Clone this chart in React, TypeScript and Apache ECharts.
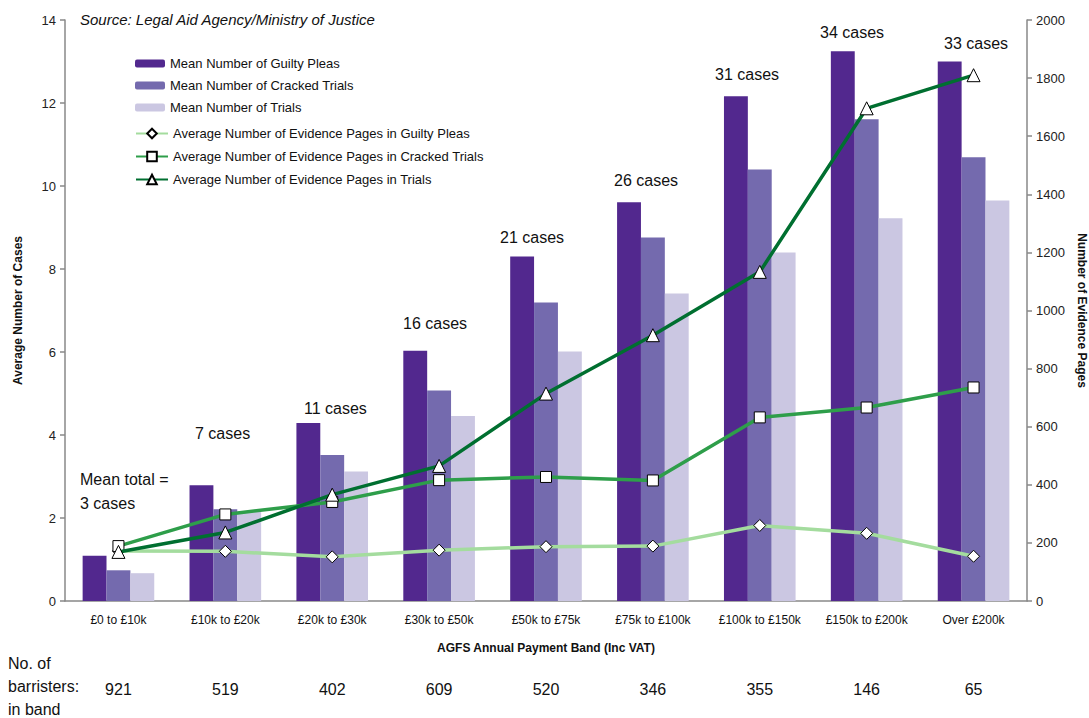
import React, { useEffect, useRef } from "react";
import * as echarts from "echarts";

const categories = ["£0 to £10k", "£10k to £20k", "£20k to £30k", "£30k to £50k", "£50k to £75k", "£75k to £100k", "£100k to £150k", "£150k to £200k", "Over £200k"];
const barristers = ["921", "519", "402", "609", "520", "346", "355", "146", "65"];
const caseTotals = [3, 7, 11, 16, 21, 26, 31, 34, 33];

const guiltyPleas = [1.09, 2.79, 4.29, 6.03, 8.3, 9.61, 12.16, 13.25, 13.0];
const crackedTrials = [0.74, 2.21, 3.52, 5.07, 7.19, 8.76, 10.4, 11.61, 10.69];
const trials = [0.67, 2.17, 3.12, 4.46, 6.01, 7.41, 8.4, 9.22, 9.65];

const pagesGuilty = [172, 171, 152, 175, 187, 189, 260, 233, 154];
const pagesCracked = [189, 298, 341, 416, 427, 415, 632, 666, 735];
const pagesTrials = [169, 236, 366, 465, 714, 915, 1133, 1696, 1810];

const FONT = "'Liberation Sans', Arial, sans-serif";

export default function App() {
  const ref = useRef<HTMLDivElement>(null);

  useEffect(() => {
    if (!ref.current) return;
    const chart = echarts.init(ref.current, null, { renderer: "svg" });

    const annPos = [
      [80, 479], [195, 433], [304, 408], [403, 323], [500, 237],
      [614, 180], [715, 74], [820, 32], [944, 43],
    ];
    const annotations = caseTotals.map((n, i) => ({
      type: "text",
      x: annPos[i][0],
      y: i === 0 ? annPos[i][1] - 12 : annPos[i][1],
      style: {
        text: i === 0 ? `Mean total =\n${n} cases` : `${n} cases`,
        font: `16px ${FONT}`,
        fill: "#111",
        verticalAlign: i === 0 ? "top" : "middle",
        lineHeight: 24,
      },
    }));

    const axisLineStyle = { color: "#888", width: 1.5 };
    const markerStyle = { color: "#fff", borderColor: "#000", borderWidth: 1 };

    chart.setOption({
      animation: false,
      textStyle: { fontFamily: FONT },
      grid: { left: 65, right: 62, top: 20, bottom: 117, containLabel: false, outerBoundsMode: "none" },
      legend: [
        {
          orient: "vertical",
          left: 130,
          top: 52,
          itemWidth: 30,
          itemHeight: 8,
          itemGap: 9,
          textStyle: { fontSize: 13, color: "#111", fontFamily: FONT },
          data: ["Mean Number of Guilty Pleas", "Mean Number of Cracked Trials", "Mean Number of Trials"],
        },
        {
          orient: "vertical",
          left: 130,
          top: 122,
          itemWidth: 32,
          itemHeight: 12,
          itemGap: 10,
          textStyle: { fontSize: 13, color: "#111", fontFamily: FONT },
          data: [
            "Average Number of Evidence Pages in Guilty Pleas",
            "Average Number of Evidence Pages in Cracked Trials",
            "Average Number of Evidence Pages in Trials",
          ],
        },
      ],
      xAxis: [
        {
          type: "category",
          data: categories,
          axisLine: { lineStyle: axisLineStyle },
          axisTick: { lineStyle: axisLineStyle, length: 6 },
          axisLabel: { fontSize: 12, color: "#111", margin: 13, interval: 0 },
          name: "AGFS Annual Payment Band (Inc VAT)",
          nameLocation: "middle",
          nameGap: 41,
          nameTextStyle: { fontSize: 12, fontWeight: "bold", color: "#111" },
        },
        {
          type: "category",
          data: barristers,
          position: "bottom",
          offset: 80,
          axisLine: { show: false },
          axisTick: { show: false },
          axisLabel: { fontSize: 16, color: "#111", margin: 0, interval: 0 },
        },
      ],
      yAxis: [
        {
          type: "value",
          min: 0,
          max: 14,
          interval: 2,
          axisLine: { show: true, lineStyle: axisLineStyle },
          axisTick: { show: true, lineStyle: axisLineStyle, length: 5 },
          splitLine: { show: false },
          axisLabel: { fontSize: 13, color: "#222", margin: 9 },
          name: "Average Number of Cases",
          nameLocation: "middle",
          nameRotate: 90,
          nameGap: 41,
          nameTextStyle: { fontSize: 12, fontWeight: "bold", color: "#111" },
        },
        {
          type: "value",
          min: 0,
          max: 2000,
          interval: 200,
          position: "right",
          axisLine: { show: true, lineStyle: axisLineStyle },
          axisTick: { show: true, lineStyle: axisLineStyle, length: 5 },
          splitLine: { show: false },
          axisLabel: { fontSize: 13, color: "#222", margin: 9, formatter: (v: number) => String(v) },
          name: "Number of Evidence Pages",
          nameLocation: "middle",
          nameRotate: -90,
          nameGap: 46,
          nameTextStyle: { fontSize: 12, fontWeight: "bold", color: "#111" },
        },
      ],
      series: [
        {
          name: "Mean Number of Guilty Pleas",
          type: "bar",
          data: guiltyPleas,
          barGap: "0%",
          barCategoryGap: "33%",
          itemStyle: { color: "#52288E" },
        },
        {
          name: "Mean Number of Cracked Trials",
          type: "bar",
          data: crackedTrials,
          itemStyle: { color: "#746AAE" },
        },
        {
          name: "Mean Number of Trials",
          type: "bar",
          data: trials,
          itemStyle: { color: "#CBC7E2" },
        },
        {
          name: "Average Number of Evidence Pages in Guilty Pleas",
          type: "line",
          yAxisIndex: 1,
          data: pagesGuilty,
          symbol: "diamond",
          symbolSize: 12,
          z: 5,
          itemStyle: markerStyle,
          lineStyle: { color: "#A4DC9E", width: 3.5 },
        },
        {
          name: "Average Number of Evidence Pages in Cracked Trials",
          type: "line",
          yAxisIndex: 1,
          data: pagesCracked,
          symbol: "rect",
          symbolSize: 11,
          z: 6,
          itemStyle: markerStyle,
          lineStyle: { color: "#2E9E4A", width: 3.5 },
        },
        {
          name: "Average Number of Evidence Pages in Trials",
          type: "line",
          yAxisIndex: 1,
          data: pagesTrials,
          symbol: "triangle",
          symbolSize: 13,
          z: 7,
          itemStyle: markerStyle,
          lineStyle: { color: "#006F30", width: 3.5 },
        },
      ],
      graphic: [
        {
          type: "text",
          x: 80,
          y: 19,
          style: {
            text: "Source: Legal Aid Agency/Ministry of Justice",
            font: `italic 15px ${FONT}`,
            fill: "#111",
            verticalAlign: "middle",
          },
        },
        ...annotations,
        {
          type: "text",
          x: 8,
          y: 652,
          style: {
            text: "No. of\nbarristers:\nin band",
            font: `16px ${FONT}`,
            fill: "#111",
            verticalAlign: "top",
            lineHeight: 23,
          },
        },
      ],
    });

    return () => chart.dispose();
  }, []);

  return (
    <div
      ref={ref}
      style={{ position: "fixed", left: 0, top: 0, width: 1089, height: 718, background: "#fff" }}
    />
  );
}
